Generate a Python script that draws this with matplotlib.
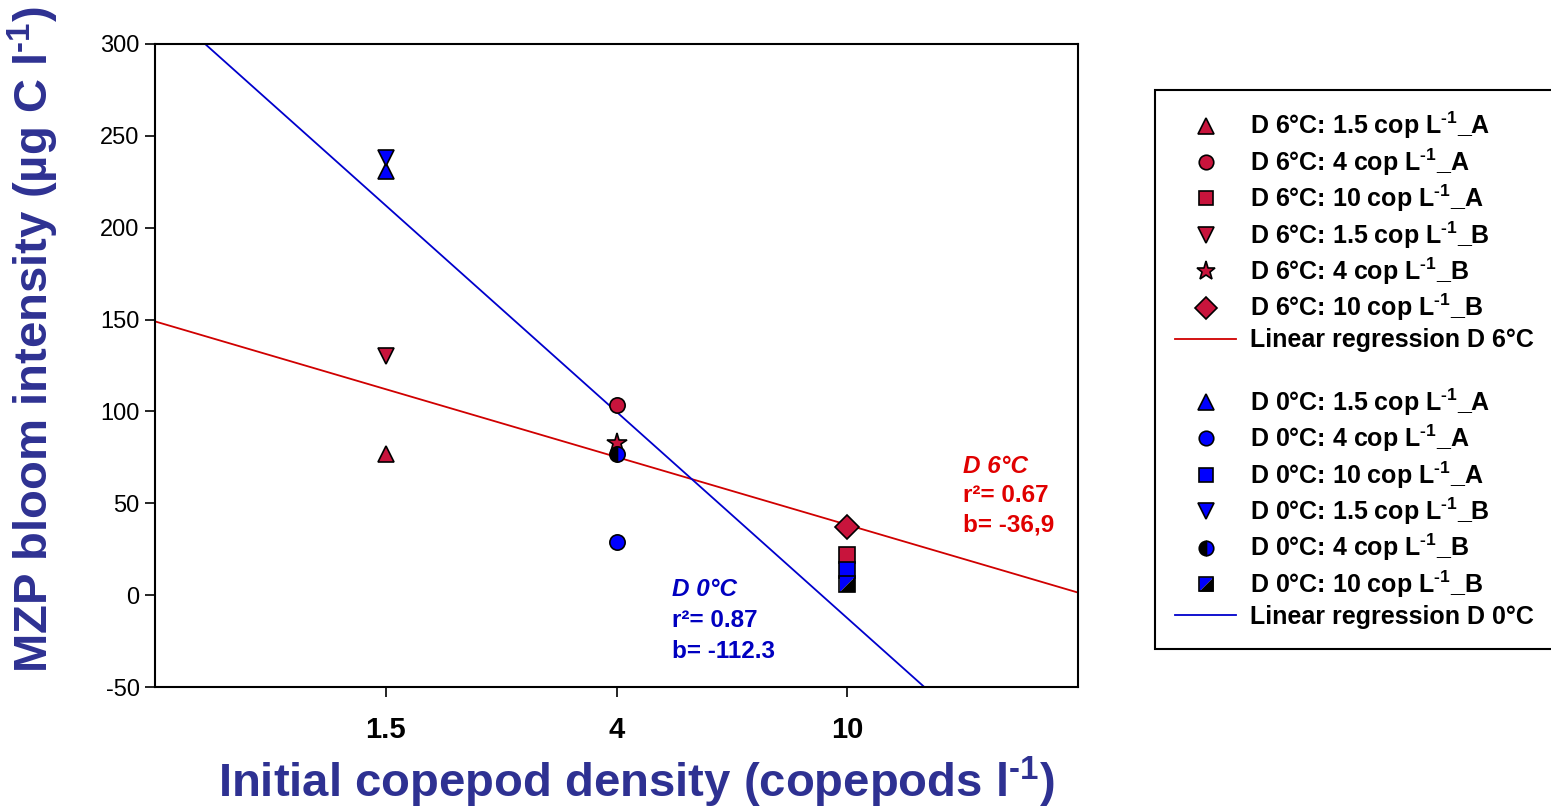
import matplotlib
matplotlib.use("Agg")
import matplotlib.pyplot as plt
from matplotlib.lines import Line2D
from matplotlib.legend_handler import HandlerTuple
import numpy as np

plt.rcParams['font.family'] = ['Liberation Sans', 'DejaVu Sans']
plt.rcParams['mathtext.fontset'] = 'custom'
plt.rcParams['mathtext.rm'] = 'Liberation Sans:bold'
plt.rcParams['mathtext.bf'] = 'Liberation Sans:bold'
plt.rcParams['mathtext.it'] = 'Liberation Sans:bold:italic'
plt.rcParams['mathtext.default'] = 'rm'
plt.rcParams['axes.unicode_minus'] = False

# ---------------- data ----------------
densities = ['1.5', '4', '10']
d6_A = [77, 103.5, 22]      # triangle up, circle, square
d6_B = [130, 83, 37]        # triangle down, star, diamond
d0_A = [231, 29, 13.6]      # triangle up, circle, square
d0_B = [238, 77, 6]         # triangle down, half circle, half square
reg6_intercept, reg6_slope = 149.0, -36.9
reg0_intercept, reg0_slope = 324.4, -112.3
r2_6, r2_0 = '0.67', '0.87'
b_6, b_0 = '-36,9', '-112.3'

RED = '#C8143C'
BLUE = '#0000FF'
LRED = '#D00000'
LBLUE = '#0000CC'
NAVY = '#2E3192'
TRED = '#E00000'
TBLUE = '#0000C0'

fig = plt.figure(figsize=(15.51, 8.09), dpi=100)
ax = fig.add_axes([155/1551, 1-687/809, (1078-155)/1551, (687-44)/809])

xpos = np.arange(1, len(densities) + 1)
ms = 12
mew = 1.2

def L(txt):
    return txt + r' L$^{\text{-1}}$'

labels6 = ['D 6°C: 1.5 cop', 'D 6°C: 4 cop', 'D 6°C: 10 cop']
labels0 = ['D 0°C: 1.5 cop', 'D 0°C: 4 cop', 'D 0°C: 10 cop']

mk6A = ['^', 'o', 's']
mk6B = ['v', '*', 'D']
sz6A = [ms, ms - 1, ms - 1]
sz6B = [ms, ms + 3, ms]
h6A, h6B = [], []
for i in range(3):
    h, = ax.plot(xpos[i], d6_A[i], ls='none', marker=mk6A[i], ms=sz6A[i], mfc=RED, mec='black', mew=mew, zorder=4)
    h6A.append(h)
for i in range(3):
    h, = ax.plot(xpos[i], d6_B[i], ls='none', marker=mk6B[i], ms=sz6B[i], mfc=RED, mec='black', mew=mew, zorder=4)
    h6B.append(h)

xx = np.array([0, 4])
lr6, = ax.plot(xx, reg6_intercept + reg6_slope * xx, color=LRED, lw=1.3, zorder=2)
lr0, = ax.plot(xx, reg0_intercept + reg0_slope * xx, color=LBLUE, lw=1.3, zorder=2)

h0A = []
mk0A = ['^', 'o', 's']
for i in range(3):
    h, = ax.plot(xpos[i], d0_A[i], ls='none', marker=mk0A[i], ms=sz6A[i], mfc=BLUE, mec='black', mew=mew, zorder=4)
    h0A.append(h)
h0B = []
h, = ax.plot(xpos[0], d0_B[0], ls='none', marker='v', ms=ms, mfc=BLUE, mec='black', mew=mew, zorder=4)
h0B.append(h)
h, = ax.plot(xpos[1], d0_B[1], ls='none', marker='o', ms=ms - 1, fillstyle='left', mfc='black',
             markerfacecoloralt=BLUE, mec='black', mew=mew, zorder=4)
h0B.append(h)
tri_ul = [(-1, -1), (-1, 1), (1, 1), (-1, -1)]
tri_lr = [(-1, -1), (1, 1), (1, -1), (-1, -1)]
ha, = ax.plot(xpos[2], d0_B[2], ls='none', marker=tri_ul, ms=ms - 1, mfc=BLUE, mec='none', mew=0, zorder=4)
hb, = ax.plot(xpos[2], d0_B[2], ls='none', marker=tri_lr, ms=ms - 1, mfc='black', mec='none', mew=0, zorder=4)
hc, = ax.plot(xpos[2], d0_B[2], ls='none', marker='s', ms=ms - 1, mfc='none', mec='black', mew=mew, zorder=5)
h0B.append((ha, hb, hc))

blank = Line2D([], [], ls='none')

handles = h6A + h6B + [lr6, blank] + h0A + h0B + [lr0]
lbls = ([L(t) + '_A' for t in labels6] + [L(t) + '_B' for t in labels6] +
        ['Linear regression D 6°C', ' '] +
        [L(t) + '_A' for t in labels0] + [L(t) + '_B' for t in labels0] +
        ['Linear regression D 0°C'])

leg = fig.legend(handles, lbls, loc='upper left', bbox_to_anchor=(1155/1551, 1-90/809),
                 bbox_transform=fig.transFigure, borderaxespad=0,
                 prop={'family': 'Liberation Sans', 'weight': 'bold', 'size': 18},
                 frameon=True, fancybox=False, edgecolor='black', framealpha=1,
                 handlelength=2.45, handletextpad=0.55, borderpad=0.8, labelspacing=0.2,
                 markerscale=0.95, handler_map={tuple: HandlerTuple(ndivide=1, pad=0)})
leg.get_frame().set_linewidth(1.5)

ax.set_xlim(0, 4)
ax.set_ylim(-50, 300)
ax.set_xticks(xpos)
ax.set_xticklabels(densities, fontsize=21, fontweight='bold')
ax.set_yticks(np.arange(-50, 301, 50))
ax.tick_params(axis='y', labelsize=17, length=7, width=1.2, direction='out', pad=4)
ax.tick_params(axis='x', length=7, width=1.2, direction='out', pad=14)
for s in ax.spines.values():
    s.set_linewidth(1.5)

fig.text(636/1551, 1-782/809, r'Initial copepod density (copepods l$^{\text{-1}}$)',
         ha='center', va='center', fontsize=34, fontweight='bold', color=NAVY)
fig.text(33/1551, 1-340/809, r'MZP bloom intensity (µg C l$^{\text{-1}}$)',
         ha='center', va='center', rotation=90, fontsize=34, fontweight='bold', color=NAVY)

# annotations
fs_ann = 17.5
ax.text(3.5, 70, 'D 6°C', color=TRED, fontsize=fs_ann, fontweight='bold', fontstyle='italic', va='center')
ax.text(3.5, 54, 'r²= ' + r2_6, color=TRED, fontsize=fs_ann, fontweight='bold', va='center')
ax.text(3.5, 38, 'b= ' + b_6, color=TRED, fontsize=fs_ann, fontweight='bold', va='center')
ax.text(2.24, 3, 'D 0°C', color=TBLUE, fontsize=fs_ann, fontweight='bold', fontstyle='italic', va='center')
ax.text(2.24, -13.6, 'r²= ' + r2_0, color=TBLUE, fontsize=fs_ann, fontweight='bold', va='center')
ax.text(2.24, -30.5, 'b= ' + b_0, color=TBLUE, fontsize=fs_ann, fontweight='bold', va='center')

fig.savefig('out.png', dpi=100)
